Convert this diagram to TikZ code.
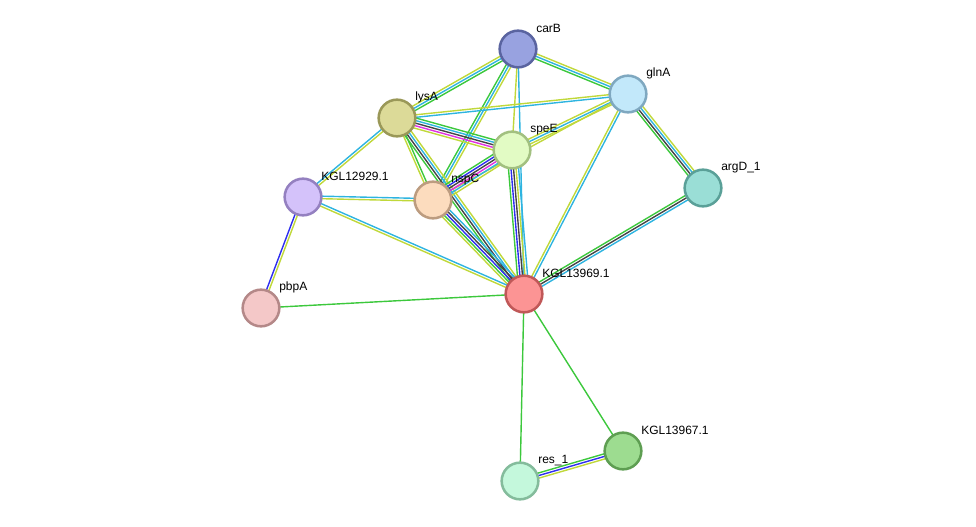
\documentclass[tikz,border=0pt]{standalone}
\usepackage{fontspec}
\setmainfont{Liberation Sans}
\usetikzlibrary{calc}
\pgfdeclarelayer{background}
\pgfsetlayers{background,main}
\definecolor{cgreen}{HTML}{3CC83C}
\definecolor{cblue}{HTML}{2E2EF0}
\definecolor{cblack}{HTML}{444444}
\definecolor{cmag}{HTML}{E030E0}
\definecolor{ccyan}{HTML}{2EB4E0}
\definecolor{cyel}{HTML}{C0D83A}
\tikzset{
  prot/.style={circle,minimum size=27.5pt,inner sep=0pt,line width=1.9pt},
  plabel/.style={anchor=west,inner sep=0pt,font=\fontsize{9pt}{10pt}\selectfont},
  edge/.style={line width=1.05pt}
}
\newcommand\prot[6]{%
  \definecolor{#1fill}{HTML}{#4}%
  \definecolor{#1line}{HTML}{#5}%
  \node[prot,fill=#1fill,draw=#1line] (#1) at (#2,#3) {};
  \node[plabel] (#1-lab) at (#2+18,#3-20.5) {#6};
}
\newcommand\sedge[3]{%
  \begin{pgfonlayer}{background}
  \foreach \c/\k in {#3} {
    \draw[edge,draw=\c] ($(#1)!\k*1.9pt!90:(#2)$) -- ($(#2)!\k*1.9pt!-90:(#1)$);
  }
  \end{pgfonlayer}
}
\begin{document}
\begin{tikzpicture}[x=0.75pt,y=-0.75pt]
\useasboundingbox (0,0) rectangle (976,527);
\prot{carB}{518}{49}{98A2E0}{5A64A0}{carB}
\prot{glnA}{628}{94}{C2E8FA}{7FA8C0}{glnA}
\prot{lysA}{397}{118}{DCDA98}{9A9858}{lysA}
\prot{speE}{512}{150}{E2FBC4}{A2C080}{speE}
\prot{kA}{303}{197}{D4C2FA}{9480C0}{KGL12929.1}
\prot{nspC}{433}{200}{FCDCBE}{BC9C80}{nspC}
\prot{argD}{703}{188}{9ADED6}{5AA098}{argD\_1}
\prot{kB}{524}{294}{FC9494}{C05858}{KGL13969.1}
\prot{pbpA}{261}{308}{F4C8C8}{B48888}{pbpA}
\prot{kC}{623}{451}{9DDC90}{5E9E52}{KGL13967.1}
\prot{res}{520}{481}{C4F8DC}{84BC9C}{res\_1}

\sedge{carB}{glnA}{cgreen/-1,ccyan/0,cyel/1}
\sedge{carB}{lysA}{cyel/-1,ccyan/0,cgreen/1}
\sedge{carB}{speE}{cyel/0}
\sedge{carB}{nspC}{cgreen/-1,ccyan/0,cyel/1}
\sedge{carB}{kB}{ccyan/0}
\sedge{glnA}{lysA}{cyel/-0.5,ccyan/0.5}
\sedge{glnA}{speE}{cyel/-1,ccyan/0,cyel/1}
\sedge{glnA}{nspC}{cyel/0}
\sedge{glnA}{kB}{cyel/-0.5,ccyan/0.5}
\sedge{glnA}{argD}{cgreen/-1.5,cblack/-0.5,ccyan/0.5,cyel/1.5}
\sedge{argD}{kB}{cgreen/-1,cblack/0,ccyan/1}
\sedge{lysA}{speE}{cyel/-2,cmag/-1,cblack/0,ccyan/1,cgreen/2}
\sedge{lysA}{kA}{ccyan/-0.5,cyel/0.5}
\sedge{lysA}{nspC}{cyel/-0.5,cgreen/0.5}
\sedge{lysA}{kB}{cgreen/-1.5,cblack/-0.5,ccyan/0.5,cyel/1.5}
\sedge{speE}{nspC}{cgreen/-2.5,cblue/-1.5,cblack/-0.5,cmag/0.5,ccyan/1.5,cyel/2.5}
\sedge{speE}{kB}{cgreen/-2,cblue/-1,cblack/0,cyel/1,ccyan/2}
\sedge{nspC}{kB}{cyel/-2,cgreen/-1,cblue/0,cblack/1,ccyan/2}
\sedge{kA}{nspC}{cyel/-0.5,ccyan/0.5}
\sedge{kA}{kB}{cyel/-0.5,ccyan/0.5}
\sedge{kA}{pbpA}{cblue/-0.5,cyel/0.5}
\sedge{pbpA}{kB}{cgreen/0}
\sedge{kB}{res}{cgreen/0}
\sedge{kB}{kC}{cgreen/0}
\sedge{res}{kC}{cyel/-1,cblue/0,cgreen/1}
\end{tikzpicture}
\end{document}
